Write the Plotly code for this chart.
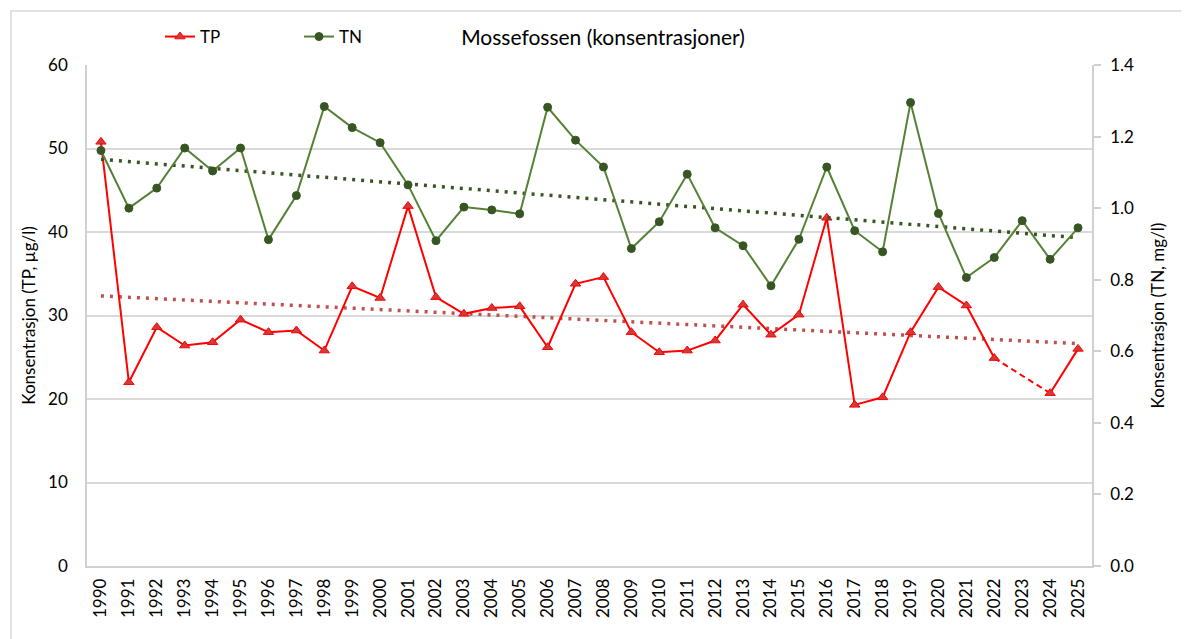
import numpy as np
import plotly.graph_objects as go

years = list(range(1990, 2026))
tp = [50.8, 22.0, 28.6, 26.4, 26.8, 29.5, 28.0, 28.2, 25.8, 33.5,
      32.1, 43.1, 32.2, 30.2, 30.9, 31.1, 26.2, 33.8, 34.6, 28.0,
      25.6, 25.8, 27.0, 31.3, 27.7, 30.1, 41.7, 19.3, 20.2, 28.0,
      33.4, 31.2, 24.9, None, 20.7, 26.0]
tn = [1.161, 1.000, 1.056, 1.168, 1.104, 1.168, 0.912, 1.035, 1.284, 1.225,
      1.183, 1.065, 0.909, 1.003, 0.995, 0.984, 1.282, 1.190, 1.115, 0.887,
      0.962, 1.095, 0.945, 0.895, 0.783, 0.913, 1.115, 0.937, 0.878, 1.295,
      0.985, 0.806, 0.862, 0.965, 0.857, 0.945]

title_text = "Mossefossen (konsentrasjoner)"
left_title = "Konsentrasjon (TP, µg/l)"
right_title = "Konsentrasjon (TN, mg/l)"
font_family = "Lato, 'Open Sans', sans-serif"

# linear trend lines (as Excel)
tp_x = [y for y, v in zip(years, tp) if v is not None]
tp_y = [v for v in tp if v is not None]
a_tp, b_tp = np.polyfit(tp_x, tp_y, 1)
a_tn, b_tn = np.polyfit(years, tn, 1)
tp_trend = [a_tp * y + b_tp for y in years]
tn_trend = [a_tn * y + b_tn for y in years]

# dashed bridge over the missing TP value
gap_i = tp.index(None)
bridge_x = [years[gap_i - 1], years[gap_i + 1]]
bridge_y = [tp[gap_i - 1], tp[gap_i + 1]]

W, H = 1181, 631
L, R, T, B = 79, 97, 56, 73
PW, PH = W - L - R, H - T - B

fig = go.Figure()

fig.add_trace(go.Scatter(x=years, y=tp_trend, mode="lines", showlegend=False,
                         line=dict(color="#C0504D", width=3.5, dash="3px,6px"),
                         hoverinfo="skip"))
fig.add_trace(go.Scatter(x=years, y=tn_trend, mode="lines", showlegend=False, yaxis="y2",
                         line=dict(color="#375623", width=3.5, dash="3px,6px"),
                         hoverinfo="skip"))
fig.add_trace(go.Scatter(x=bridge_x, y=bridge_y, mode="lines", showlegend=False,
                         line=dict(color="#FF0000", width=2, dash="6px,4px")))
fig.add_trace(go.Scatter(x=years, y=tp, name="TP", mode="lines+markers",
                         connectgaps=False,
                         line=dict(color="#FF0000", width=2),
                         marker=dict(symbol="triangle-up", size=9, color="#D13A3A",
                                     line=dict(color="#FF0000", width=1))))
fig.add_trace(go.Scatter(x=years, y=tn, name="TN", mode="lines+markers", yaxis="y2",
                         line=dict(color="#548235", width=2),
                         marker=dict(symbol="circle", size=8, color="#375623",
                                     line=dict(color="#375623", width=1))))

fig.update_layout(
    width=W, height=H,
    margin=dict(l=L, r=R, t=T, b=B),
    paper_bgcolor="white", plot_bgcolor="white",
    font=dict(family=font_family, size=16, color="#000000"),
    title=dict(text=title_text, x=595 / W, xanchor="center", y=1 - 30 / H,
               yanchor="middle", font=dict(size=21, family=font_family)),
    legend=dict(orientation="h", x=(152 - L) / PW, xanchor="left",
                y=(H - B - 29) / PH, yanchor="middle",
                font=dict(size=17), entrywidth=94, entrywidthmode="pixels",
                bgcolor="rgba(0,0,0,0)", itemwidth=30),
    xaxis=dict(range=[1989.5, 2025.5], tickmode="array", tickvals=years,
               ticktext=[str(y) for y in years], tickangle=-90,
               showgrid=False, showline=True, linecolor="#D0D0D0", linewidth=1.5,
               ticks="", tickfont=dict(size=17), zeroline=False,
               ticklabelstandoff=4),
    yaxis=dict(range=[0, 60], dtick=10, showgrid=True, gridcolor="#D9D9D9",
               gridwidth=1.5, showline=True, linecolor="#D0D0D0", linewidth=1.5,
               ticks="", tickfont=dict(size=17), zeroline=False,
               ticklabelstandoff=14,
               title=dict(text=left_title, font=dict(size=17), standoff=8)),
    yaxis2=dict(range=[0, 1.4], dtick=0.2, tickformat=".1f", overlaying="y",
                side="right", showgrid=False, showline=True, linecolor="#D0D0D0",
                linewidth=1.5, ticks="outside", ticklen=7, tickcolor="#D0D0D0",
                tickwidth=1.5, tickfont=dict(size=17), zeroline=False,
                ticklabelstandoff=6,
                title=dict(text=right_title, font=dict(size=17), standoff=19)),
    shapes=[dict(type="rect", xref="paper", yref="paper",
                 x0=(3 - L) / PW, x1=(1200 - L) / PW,
                 y0=(H - B - 640) / PH, y1=(H - B - 2) / PH,
                 line=dict(color="#D9D9D9", width=1.5), fillcolor="rgba(0,0,0,0)",
                 layer="below")],
)

fig.write_html("out.html")
